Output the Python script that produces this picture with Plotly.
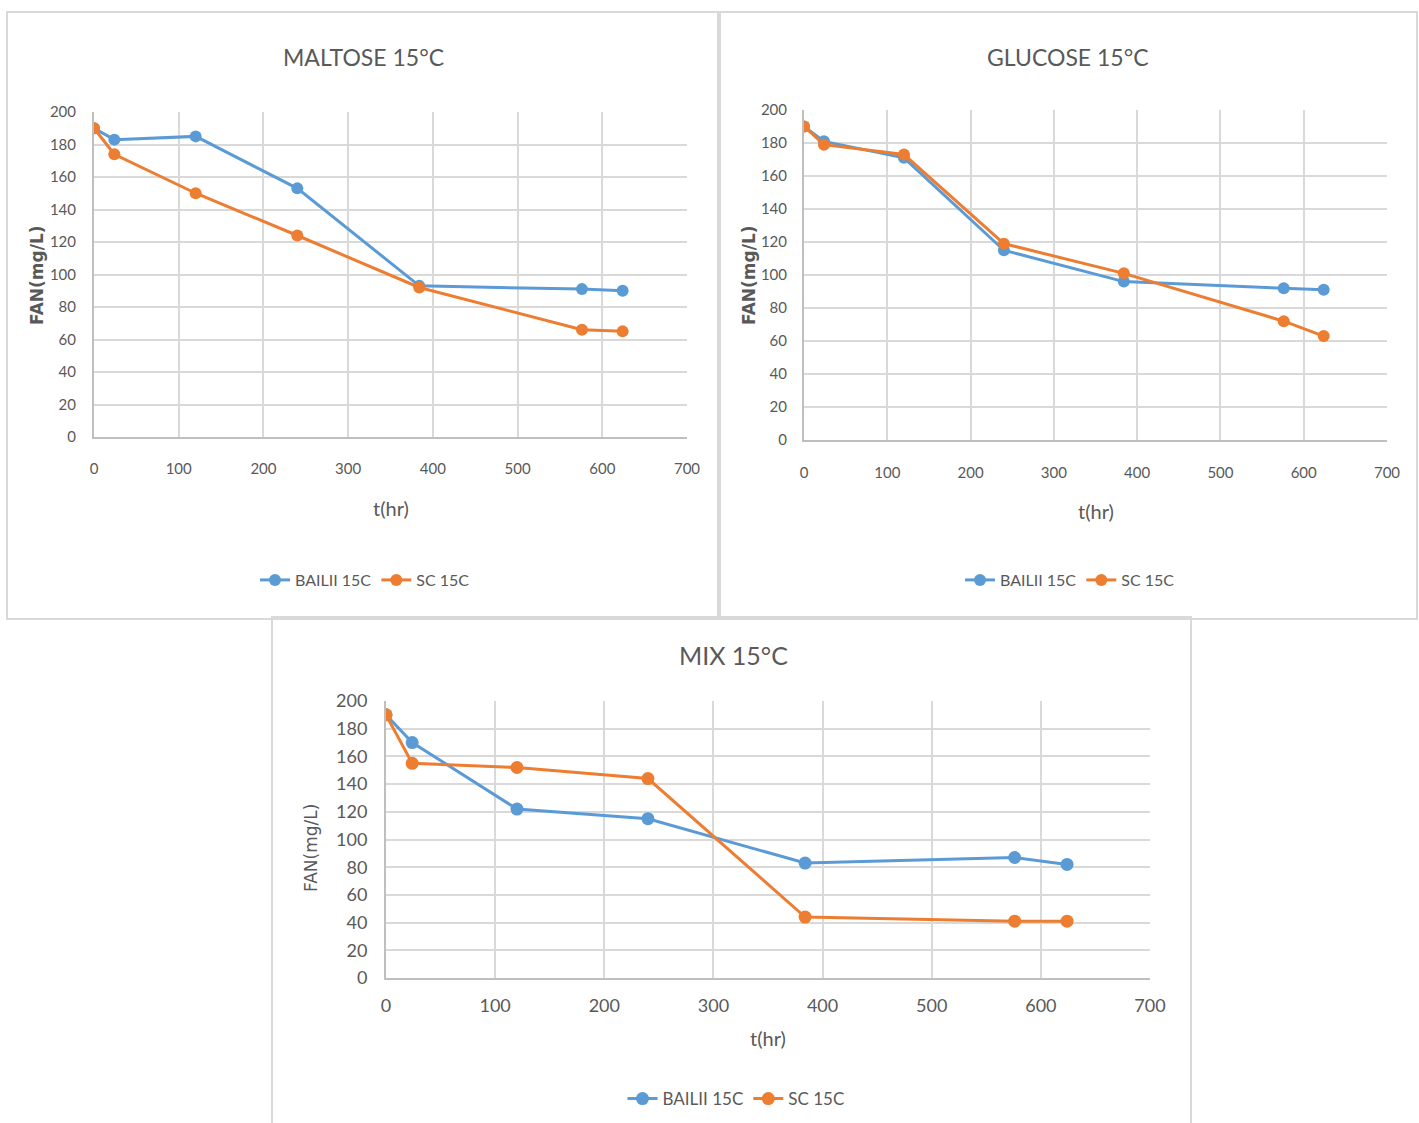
import plotly.graph_objects as go

t_hours = [0, 24, 120, 240, 384, 576, 624]

maltose_bailii = [190, 183, 185, 153, 93, 91, 90]
maltose_sc = [190, 174, 150, 124, 92, 66, 65]

glucose_bailii = [190, 181, 171, 115, 96, 92, 91]
glucose_sc = [190, 179, 173, 119, 101, 72, 63]

mix_bailii = [190, 170, 122, 115, 83, 87, 82]
mix_sc = [190, 155, 152, 144, 44, 41, 41]

series_names = ["BAILII 15C", "SC 15C"]
titles = ["MALTOSE 15°C", "GLUCOSE 15°C", "MIX 15°C"]
x_title = "t(hr)"
y_title = "FAN(mg/L)"

BLUE = "#5B9BD5"
ORANGE = "#ED7D31"
GRID = "#d9d9d9"
TXT = "#595959"

W, H = 1419, 1123
def px(x): return x / W
def py(y): return 1 - y / H

FONT = "Lato, Open Sans, sans-serif"

fig = go.Figure()

panels = [
    dict(data=(maltose_bailii, maltose_sc), ax="x", ay="y", leg="legend", ms=12),
    dict(data=(glucose_bailii, glucose_sc), ax="x2", ay="y2", leg="legend2", ms=12),
    dict(data=(mix_bailii, mix_sc), ax="x3", ay="y3", leg="legend3", ms=13),
]
for i, p in enumerate(panels):
    for vals, name, col in zip(p["data"], series_names, [BLUE, ORANGE]):
        fig.add_trace(go.Scatter(
            x=t_hours, y=vals, name=name, mode="lines+markers",
            line=dict(color=col, width=3),
            marker=dict(color=col, size=p["ms"], symbol="circle"),
            xaxis=p["ax"], yaxis=p["ay"], legend=p["leg"],
        ))

def axis_common(size):
    return dict(
        showgrid=True, gridcolor=GRID, gridwidth=2, automargin=False,
        zeroline=False, showline=True, linecolor="#bfbfbf", linewidth=2,
        ticks="", tickfont=dict(family=FONT, size=size, color=TXT),
    )

domains = [
    ((94, 687), (112, 437), 15, 17, 13),
    ((804, 1387), (110, 440), 15, 18, 12),
    ((386, 1150), (701, 978), 18, 10, 13),
]
for i, ((x0, x1), (y0, y1), size, xs, ys) in enumerate(domains):
    suffix = "" if i == 0 else str(i + 1)
    xa = axis_common(size)
    xa.update(domain=[px(x0), px(x1)], range=[0, 700], dtick=100,
              anchor="y" + suffix, ticklabelstandoff=xs)
    ya = axis_common(size)
    ya.update(domain=[py(y1), py(y0)], range=[0, 200], dtick=20,
              anchor="x" + suffix, ticklabelstandoff=ys)
    fig.update_layout(**{"xaxis" + suffix: xa, "yaxis" + suffix: ya})

annotations = []
for txt, (x, y), size in [
    (titles[0], (363, 57), 23),
    (titles[1], (1068, 57), 23),
    (titles[2], (733, 655), 25),
]:
    annotations.append(dict(text=txt, x=px(x), y=py(y), xref="paper", yref="paper",
                            showarrow=False, xanchor="center", yanchor="middle",
                            font=dict(family=FONT, size=size, color=TXT)))
for (x, y), size in [((391, 508), 20), ((1096, 511), 20), ((768, 1038), 20)]:
    annotations.append(dict(text=x_title, x=px(x), y=py(y), xref="paper", yref="paper",
                            showarrow=False, xanchor="center", yanchor="middle",
                            font=dict(family=FONT, size=size, color=TXT)))
for (x, y), bold, size in [((37, 275), True, 17), ((749, 275), True, 17), ((311, 848), False, 17)]:
    annotations.append(dict(text=("<b>%s</b>" % y_title) if bold else y_title,
                            x=px(x), y=py(y), xref="paper", yref="paper",
                            showarrow=False, xanchor="center", yanchor="middle", textangle=-90,
                            font=dict(family="DejaVu Sans", size=size, color=TXT)))

shapes = []
for (x0, y0, x1, y1) in [(7, 12, 718, 619), (720, 12, 1417, 619), (272, 617, 1191, 1130)]:
    shapes.append(dict(type="rect", xref="paper", yref="paper",
                       x0=px(x0), x1=px(x1), y0=py(y1), y1=py(y0),
                       line=dict(color=GRID, width=2), fillcolor="rgba(0,0,0,0)", layer="below"))

def legend_cfg(x, y, size):
    return dict(orientation="h", x=px(x), y=py(y), xanchor="center", yanchor="middle",
                font=dict(family=FONT, size=size, color=TXT), bgcolor="rgba(0,0,0,0)",
                itemwidth=30, tracegroupgap=0)

fig.update_layout(
    width=W, height=H, margin=dict(l=0, r=0, t=0, b=0, autoexpand=False),
    paper_bgcolor="white", plot_bgcolor="white",
    annotations=annotations, shapes=shapes,
    legend=legend_cfg(365, 580, 16),
    legend2=legend_cfg(1070, 580, 16),
    legend3=legend_cfg(736, 1099, 17),
    showlegend=True,
)

fig.write_html("out.html",
               post_script="document.body.style.margin='0';document.body.style.overflow='hidden';")
